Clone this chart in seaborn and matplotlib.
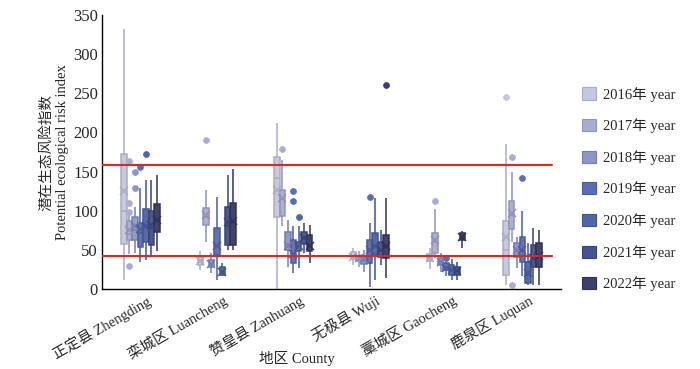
import numpy as np
import pandas as pd
import matplotlib
matplotlib.use("Agg")
import matplotlib.pyplot as plt
import matplotlib.transforms as mtransforms
from matplotlib.patches import Patch
import seaborn as sns

# ---- data ----
counties = ["正定县 Zhengding", "栾城区 Luancheng", "赞皇县 Zanhuang",
            "无极县 Wuji", "藁城区 Gaocheng", "鹿泉区 Luquan"]
years = ["2016年 year", "2017年 year", "2018年 year", "2019年 year",
         "2020年 year", "2021年 year", "2022年 year"]

# rows = county, columns = year
low = [[12, 45, 46, 35, 37, 41, 48],
       [24, 60, 20, 11, 16, 50, 50],
       [0, 80, 28, 20, 27, 46, 33],
       [31, 28, 22, 3, 11, 30, 14],
       [25, 40, 22, 16, 12, 12, 52],
       [5, 60, 27, 16, 5, 5, 5]]
q1 = [[58, 62, 62, 54, 60, 56, 73],
      [31, 82, 28, 43, 18, 56, 56],
      [92, 93, 50, 33, 48, 58, 48],
      [38, 36, 32, 33, 43, 41, 40],
      [36, 46, 31, 24, 18, 18, 62],
      [18, 77, 41, 35, 8, 28, 28]]
median = [[100, 70, 75, 72, 80, 78, 88],
          [36, 92, 32, 55, 22, 80, 85],
          [142, 115, 58, 45, 55, 65, 55],
          [42, 38, 36, 48, 55, 50, 55],
          [40, 60, 35, 28, 24, 23, 66],
          [50, 95, 48, 48, 18, 40, 42]]
q3 = [[172, 87, 92, 84, 102, 99, 109],
      [41, 103, 37, 78, 28, 105, 110],
      [169, 127, 73, 63, 60, 73, 69],
      [47, 42, 42, 63, 71, 60, 69],
      [45, 71, 40, 33, 30, 28, 71],
      [87, 113, 59, 67, 35, 56, 59]]
high = [[332, 95, 105, 129, 139, 139, 146],
        [48, 126, 46, 118, 33, 146, 153],
        [212, 165, 88, 80, 80, 84, 82],
        [52, 48, 50, 84, 116, 75, 116],
        [52, 102, 46, 36, 38, 34, 74],
        [185, 150, 67, 99, 59, 78, 75]]
mean = [[125, 75, 80, 77, 80, 82, 88],
        [36, 94, 32, 55, 22, 85, 87],
        [126, 116, 55, 45, 55, 65, 55],
        [41, 39, 38, 50, 55, 50, 55],
        [40, 63, 34, 27, 24, 23, 66],
        [67, 97, 50, 50, 20, 40, 42]]

# outliers: (county index, year index, value)
outliers = [(0, 1, 163), (0, 1, 110), (0, 1, 98), (0, 1, 29),
            (0, 2, 150), (0, 2, 129), (0, 3, 156), (0, 4, 172),
            (1, 1, 191),
            (2, 1, 179), (2, 3, 125), (2, 3, 112), (2, 4, 92),
            (3, 3, 117), (3, 6, 261),
            (4, 1, 113), (4, 3, 39),
            (5, 0, 245), (5, 1, 169), (5, 1, 5), (5, 3, 142)]

risk_levels = [158, 42]

# ---- styles ----
fills = ["#c5c7de", "#a9add0", "#8e96c8", "#5b6eb4", "#5064a8", "#45538f", "#3b406c"]
edges = ["#a9abc4", "#8e93bb", "#737cb2", "#4a5c9f", "#405394", "#36437a", "#2e3258"]
fill_pal = dict(zip(years, fills))
edge_pal = dict(zip(years, edges))

box_rows = []
for i, c in enumerate(counties):
    for j, y in enumerate(years):
        for v in (low[i][j], q1[i][j], median[i][j], q3[i][j], high[i][j]):
            box_rows.append((c, y, v))
df_box = pd.DataFrame(box_rows, columns=["county", "year", "value"])

df_mean = pd.DataFrame([(counties[i], years[j], mean[i][j])
                        for i in range(len(counties)) for j in range(len(years))],
                       columns=["county", "year", "value"])

df_out = pd.DataFrame([(counties[i], years[j], v) for i, j, v in outliers],
                      columns=["county", "year", "value"])
df_out["rank"] = df_out.groupby(["county", "year"]).cumcount()

sns.set_theme(style="white")
plt.rcParams["font.family"] = ["Liberation Serif", "Noto Sans CJK SC"]

fig = plt.figure(figsize=(7, 3.69), dpi=100)
ax = fig.add_axes([0.146, 0.217, 0.655, 0.742])

width = 0.5
span = width * (len(years) - 1) / len(years)

# boxes, one year at a time so each gets its own line colour
for y in years:
    sns.boxplot(data=df_box[df_box["year"] == y], x="county", y="value",
                hue="year", order=counties, hue_order=years, palette=fill_pal,
                dodge=True, width=width, whis=(0, 100), showfliers=False,
                showcaps=False, linecolor=edge_pal[y], linewidth=1.1,
                legend=False, ax=ax)

# means
sns.pointplot(data=df_mean, x="county", y="value", hue="year", order=counties,
              hue_order=years, palette=edge_pal, markers="x", linestyle="none",
              dodge=span, errorbar=None, markersize=5.5, markeredgewidth=1.1,
              legend=False, ax=ax)

# outliers
for r in sorted(df_out["rank"].unique()):
    sns.pointplot(data=df_out[df_out["rank"] == r], x="county", y="value",
                  hue="year", order=counties, hue_order=years, palette=fill_pal,
                  markers="o", linestyle="none", dodge=span, errorbar=None,
                  markersize=4.2, markeredgewidth=0.6, legend=False, ax=ax)

for lv in risk_levels:
    ax.axhline(lv, xmin=0, xmax=0.98, color="#e0261f", lw=1.5, zorder=5)

ax.set_xlim(-0.5, len(counties) - 0.5)
ax.set_ylim(0, 350)
ax.set_yticks(np.arange(0, 351, 50))
ax.set_xticks(range(len(counties)))
ax.set_xticks(np.arange(0.5, len(counties), 1), minor=True)
ax.tick_params(axis="x", which="major", length=0, pad=3)
ax.tick_params(axis="x", which="minor", direction="in", length=4, width=1, color="black")
ax.tick_params(axis="y", direction="in", length=4, width=1, color="black",
               labelsize=12, pad=3)

offset = mtransforms.ScaledTranslation(5 / 100, 0, fig.dpi_scale_trans)
ax.set_xticklabels(counties, rotation=30, ha="right", rotation_mode="anchor",
                   fontsize=10.5)
for lab in ax.get_xticklabels():
    lab.set_transform(lab.get_transform() + offset)

for side in ("top", "right"):
    ax.spines[side].set_visible(False)
for side in ("left", "bottom"):
    ax.spines[side].set_color("black")
    ax.spines[side].set_linewidth(1)

ax.set_xlabel("地区 County", fontsize=10.5)
ax.xaxis.set_label_coords(0.425, -0.225)
ax.set_ylabel("潜在生态风险指数\nPotential ecological risk index", fontsize=10.5,
              linespacing=1.3, labelpad=3)

handles = [Patch(facecolor=fill_pal[y], edgecolor=edge_pal[y], linewidth=0.8) for y in years]
ax.legend(handles, years, loc="upper left", bbox_to_anchor=(0.832, 0.765),
          bbox_transform=fig.transFigure, frameon=False, fontsize=10.5,
          handlelength=0.9, handleheight=0.9, handletextpad=0.5,
          labelspacing=1.15, borderpad=0, borderaxespad=0)

fig.savefig("out.png", dpi=100)
